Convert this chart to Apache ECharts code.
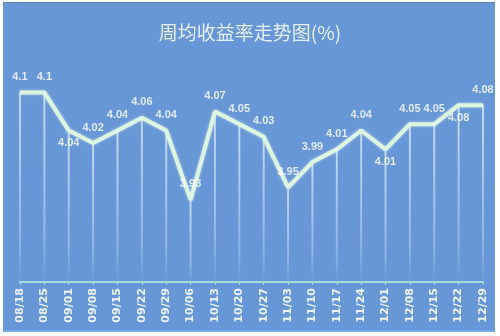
<!DOCTYPE html>
<html>
<head>
<meta charset="utf-8">
<script src="https://cdn.jsdelivr.net/npm/echarts@6/dist/echarts.min.js"></script>
<style>
html,body{margin:0;padding:0;background:#ffffff;width:500px;height:336px;overflow:hidden;}
#frame{position:absolute;left:3px;top:2px;width:492px;height:327px;background:#6797d6;border-top:1px solid #5d80b6;border-bottom:2px solid #7caaf0;}
#chart{position:absolute;left:0;top:0;width:500px;height:336px;}
</style>
</head>
<body>
<div id="frame"></div>
<div id="chart"></div>
<script>
var titleText = '周均收益率走势图(%)';
var categories = ['08/18','08/25','09/01','09/08','09/15','09/22','09/29','10/06','10/13','10/20','10/27','11/03','11/10','11/17','11/24','12/01','12/08','12/15','12/22','12/29'];
var values = [4.1, 4.1, 4.04, 4.02, 4.04, 4.06, 4.04, 3.93, 4.07, 4.05, 4.03, 3.95, 3.99, 4.01, 4.04, 4.01, 4.05, 4.05, 4.08, 4.08];
var labelPos = ['top','top','bottom','top','top','top','top','top','top','top','top','top','top','top','top','bottom','top','top','bottom','top'];

var chart = echarts.init(document.getElementById('chart'), null, {renderer: 'canvas'});
var labelData = values.map(function (v, i) {
  return {
    value: v,
    label: {
      position: labelPos[i],
      distance: labelPos[i] === 'bottom' ? 6 : 9
    }
  };
});
var option = {
  backgroundColor: 'transparent',
  animation: false,
  title: {
    text: titleText,
    left: 'center',
    top: 18,
    textStyle: {color: '#e6eef9', fontSize: 19, fontWeight: 'normal', fontFamily: 'Noto Sans CJK SC'}
  },
  grid: {left: 20, right: 17, top: 61, bottom: 54},
  xAxis: {
    type: 'category',
    data: categories,
    boundaryGap: false,
    axisLine: {lineStyle: {color: '#a6dbe0', width: 2}},
    axisTick: {show: true, length: 3, lineStyle: {color: '#a6dbe0'}},
    axisLabel: {
      rotate: 90,
      color: '#eef3fb',
      fontSize: 11,
      fontWeight: 'bold',
      fontFamily: 'DejaVu Sans',
      margin: 6,
      interval: 0
    },
    splitLine: {show: false}
  },
  yAxis: {
    type: 'value',
    min: 3.8,
    max: 4.15,
    show: false,
    splitLine: {show: false}
  },
  series: [
    {
      type: 'bar',
      data: values,
      barWidth: 2,
      silent: true,
      itemStyle: {
        color: new echarts.graphic.LinearGradient(0, 0, 0, 1, [
          {offset: 0, color: 'rgba(235,245,255,0.7)'},
          {offset: 0.8, color: 'rgba(235,245,255,0.3)'},
          {offset: 1, color: 'rgba(235,245,255,0.0)'}
        ])
      },
      z: 1
    },
    {
      type: 'line',
      data: values,
      symbol: 'none',
      lineStyle: {color: '#dcf6df', width: 4, shadowColor: 'rgba(255,255,255,0.6)', shadowBlur: 3},
      z: 3
    },
    {
      type: 'scatter',
      data: labelData,
      symbol: 'circle',
      symbolSize: 2,
      itemStyle: {color: 'rgba(0,0,0,0)'},
      label: {
        show: true,
        color: '#ffffff',
        fontSize: 11,
        fontWeight: 'bold',
        fontFamily: 'Liberation Sans'
      },
      z: 4
    }
  ]
};
chart.setOption(option);
</script>
</body>
</html>
